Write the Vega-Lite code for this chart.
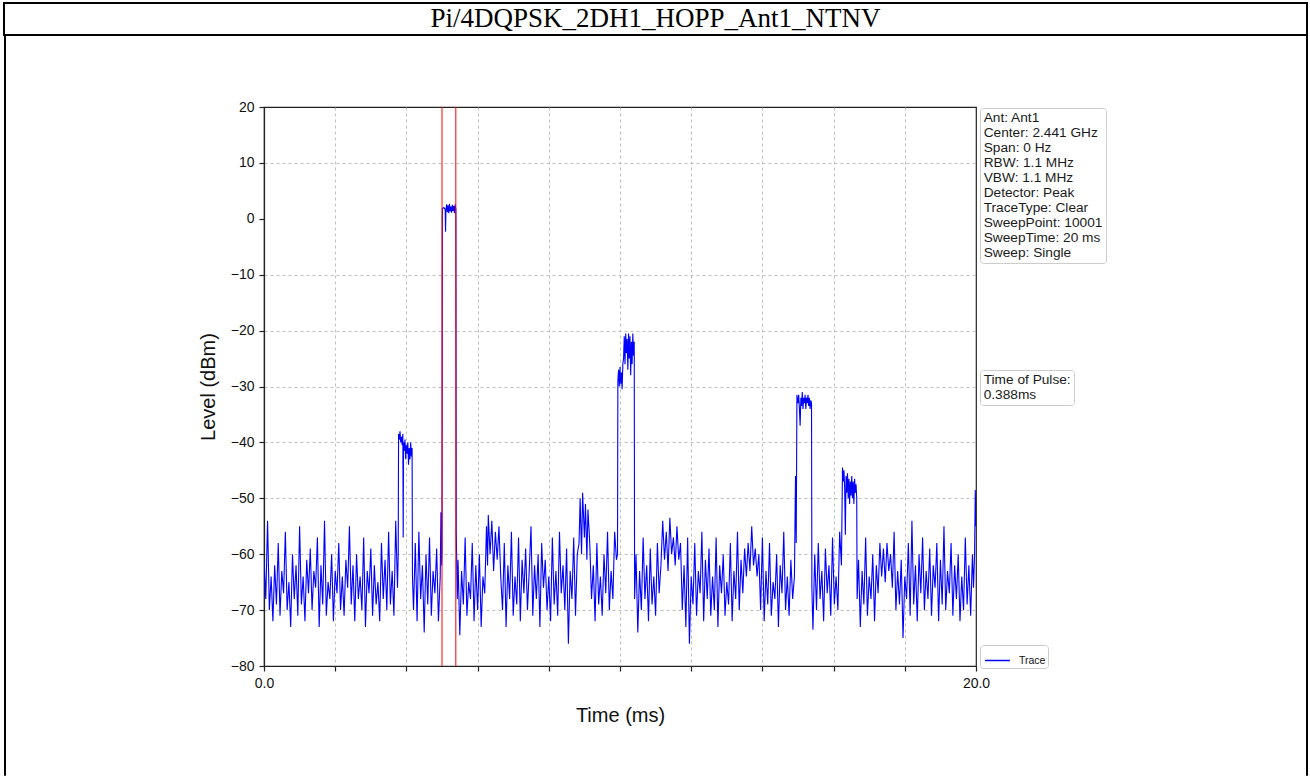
{
  "$schema": "https://vega.github.io/schema/vega-lite/v6.json",
  "padding": {"left": 1, "top": 2, "right": 1, "bottom": 0},
  "background": "white",
  "config": {
    "font": "Liberation Sans",
    "view": {"stroke": "#222222", "strokeWidth": 1.2},
    "axis": {
      "domainColor": "#222222", "domainWidth": 1.2,
      "tickColor": "#222222", "tickWidth": 1.2, "tickSize": 5,
      "labelFont": "Liberation Sans", "labelFontSize": 14, "labelColor": "#111111",
      "titleFont": "Liberation Sans", "titleFontSize": 20, "titleFontWeight": "normal", "titleColor": "#111111",
      "grid": true, "gridDash": [3, 3], "gridWidth": 0.8,
      "gridColor": {"condition": {"test": "datum.value === 20 || datum.value === 0 || datum.value === -80", "value": "transparent"}, "value": "#b0b0b0"}
    }
  },
  "datasets": {
    "heading": [{"title": "Pi/4DQPSK_2DH1_HOPP_Ant1_NTNV"}],
    "blank": [{"id": 1}],
    "markers": [{"t": 5.0}, {"t": 5.388}],
    "info": [
      {"line": "Ant: Ant1"}, {"line": "Center: 2.441 GHz"}, {"line": "Span: 0 Hz"}, {"line": "RBW: 1.1 MHz"},
      {"line": "VBW: 1.1 MHz"}, {"line": "Detector: Peak"}, {"line": "TraceType: Clear"},
      {"line": "SweepPoint: 10001"}, {"line": "SweepTime: 20 ms"}, {"line": "Sweep: Single"}
    ],
    "pulse": [{"label": "Time of Pulse:"}, {"label": "\u00a00.388ms"}],
    "trace": [
      {"t":0.00,"level":-61},{"t":0.05,"level":-68},{"t":0.10,"level":-54},{"t":0.15,"level":-70},{"t":0.20,"level":-64},
      {"t":0.25,"level":-72},{"t":0.30,"level":-62},{"t":0.35,"level":-69},{"t":0.40,"level":-58},{"t":0.45,"level":-71},
      {"t":0.50,"level":-63},{"t":0.55,"level":-67},{"t":0.60,"level":-56},{"t":0.65,"level":-70},{"t":0.70,"level":-65},
      {"t":0.75,"level":-73},{"t":0.80,"level":-60},{"t":0.85,"level":-68},{"t":0.90,"level":-62},{"t":0.95,"level":-71},
      {"t":1.00,"level":-55},{"t":1.05,"level":-69},{"t":1.10,"level":-64},{"t":1.15,"level":-72},{"t":1.20,"level":-61},
      {"t":1.25,"level":-67},{"t":1.30,"level":-59},{"t":1.35,"level":-70},{"t":1.40,"level":-63},{"t":1.45,"level":-66},
      {"t":1.50,"level":-57},{"t":1.55,"level":-73},{"t":1.60,"level":-62},{"t":1.65,"level":-69},{"t":1.70,"level":-54},
      {"t":1.75,"level":-71},{"t":1.80,"level":-65},{"t":1.85,"level":-68},{"t":1.90,"level":-60},{"t":1.95,"level":-72},
      {"t":2.00,"level":-63},{"t":2.05,"level":-67},{"t":2.10,"level":-58},{"t":2.15,"level":-70},{"t":2.20,"level":-64},
      {"t":2.25,"level":-71},{"t":2.30,"level":-61},{"t":2.35,"level":-66},{"t":2.40,"level":-55},{"t":2.45,"level":-69},
      {"t":2.50,"level":-62},{"t":2.55,"level":-72},{"t":2.60,"level":-60},{"t":2.65,"level":-68},{"t":2.70,"level":-64},
      {"t":2.75,"level":-70},{"t":2.80,"level":-57},{"t":2.85,"level":-73},{"t":2.90,"level":-63},{"t":2.95,"level":-67},
      {"t":3.00,"level":-59},{"t":3.05,"level":-71},{"t":3.10,"level":-62},{"t":3.15,"level":-69},{"t":3.20,"level":-65},
      {"t":3.25,"level":-72},{"t":3.30,"level":-58},{"t":3.35,"level":-68},{"t":3.40,"level":-61},{"t":3.45,"level":-70},
      {"t":3.50,"level":-56},{"t":3.55,"level":-69},{"t":3.60,"level":-63},{"t":3.65,"level":-71},{"t":3.70,"level":-54},
      {"t":3.75,"level":-66},{"t":3.77,"level":-60},
      {"t":3.78,"level":-38.5},{"t":3.80,"level":-39.5},{"t":3.82,"level":-38},{"t":3.84,"level":-40},{"t":3.86,"level":-39},
      {"t":3.88,"level":-40.5},{"t":3.90,"level":-38.5},{"t":3.91,"level":-57},{"t":3.92,"level":-40},{"t":3.94,"level":-41.5},
      {"t":3.96,"level":-39.5},{"t":3.98,"level":-43},{"t":4.00,"level":-40.5},{"t":4.02,"level":-42},{"t":4.04,"level":-40},
      {"t":4.06,"level":-44},{"t":4.08,"level":-41},{"t":4.10,"level":-43},{"t":4.12,"level":-40},{"t":4.14,"level":-42.5},
      {"t":4.16,"level":-41},{"t":4.17,"level":-64},
      {"t":4.20,"level":-70},{"t":4.25,"level":-58},{"t":4.30,"level":-72},{"t":4.35,"level":-56},{"t":4.40,"level":-68},
      {"t":4.45,"level":-62},{"t":4.50,"level":-74},{"t":4.55,"level":-60},{"t":4.60,"level":-69},{"t":4.65,"level":-57},
      {"t":4.70,"level":-71},{"t":4.75,"level":-63},{"t":4.80,"level":-67},{"t":4.85,"level":-59},{"t":4.90,"level":-72},
      {"t":4.95,"level":-64},{"t":4.97,"level":-52.5},{"t":4.99,"level":-62},{"t":5.00,"level":-60},
      {"t":5.01,"level":1.8},{"t":5.05,"level":2},{"t":5.09,"level":1.7},{"t":5.10,"level":-2.3},{"t":5.11,"level":1.5},
      {"t":5.13,"level":2.6},{"t":5.15,"level":1.2},{"t":5.17,"level":2.4},{"t":5.19,"level":1.0},{"t":5.21,"level":2.7},
      {"t":5.23,"level":1.3},{"t":5.25,"level":2.2},{"t":5.27,"level":1.1},{"t":5.29,"level":2.5},{"t":5.31,"level":1.4},
      {"t":5.33,"level":2.3},{"t":5.35,"level":1.0},{"t":5.37,"level":2.6},{"t":5.39,"level":1.6},
      {"t":5.40,"level":-56},{"t":5.43,"level":-68},
      {"t":5.45,"level":-61},{"t":5.50,"level":-74.5},{"t":5.55,"level":-63},{"t":5.60,"level":-69},{"t":5.65,"level":-57},
      {"t":5.70,"level":-71},{"t":5.75,"level":-65},{"t":5.80,"level":-68},{"t":5.85,"level":-58},{"t":5.90,"level":-72},
      {"t":5.95,"level":-62},{"t":6.00,"level":-70},{"t":6.05,"level":-60},{"t":6.10,"level":-73},{"t":6.15,"level":-64},
      {"t":6.20,"level":-67},
      {"t":6.25,"level":-55},{"t":6.28,"level":-62},{"t":6.30,"level":-53},{"t":6.35,"level":-60},{"t":6.40,"level":-54},
      {"t":6.45,"level":-63},{"t":6.50,"level":-56},{"t":6.55,"level":-61},{"t":6.60,"level":-55},{"t":6.65,"level":-64},
      {"t":6.70,"level":-70},{"t":6.75,"level":-58},{"t":6.80,"level":-73},{"t":6.85,"level":-62},{"t":6.90,"level":-68},
      {"t":6.95,"level":-56},{"t":7.00,"level":-71},{"t":7.05,"level":-64},{"t":7.10,"level":-69},{"t":7.15,"level":-57},
      {"t":7.20,"level":-72},{"t":7.25,"level":-61},{"t":7.30,"level":-67},{"t":7.35,"level":-59},{"t":7.40,"level":-70},
      {"t":7.45,"level":-63},{"t":7.50,"level":-55},{"t":7.55,"level":-71},{"t":7.60,"level":-62},{"t":7.65,"level":-68},
      {"t":7.70,"level":-60},{"t":7.75,"level":-73},{"t":7.80,"level":-58},{"t":7.85,"level":-66},{"t":7.90,"level":-61},
      {"t":7.95,"level":-70},{"t":8.00,"level":-64},{"t":8.05,"level":-72},{"t":8.10,"level":-57},{"t":8.15,"level":-69},
      {"t":8.20,"level":-63},{"t":8.25,"level":-71},{"t":8.30,"level":-56},{"t":8.35,"level":-67},{"t":8.40,"level":-62},
      {"t":8.45,"level":-70},{"t":8.50,"level":-59},{"t":8.55,"level":-76},{"t":8.60,"level":-63},{"t":8.65,"level":-68},
      {"t":8.70,"level":-57},{"t":8.75,"level":-71},{"t":8.80,"level":-60},
      {"t":8.85,"level":-58},{"t":8.88,"level":-50},{"t":8.92,"level":-60},{"t":8.95,"level":-49},{"t":9.00,"level":-57},
      {"t":9.03,"level":-51},{"t":9.07,"level":-61},{"t":9.10,"level":-52},{"t":9.15,"level":-58},
      {"t":9.20,"level":-68},{"t":9.25,"level":-62},{"t":9.30,"level":-72},{"t":9.35,"level":-58},{"t":9.40,"level":-69},
      {"t":9.45,"level":-64},{"t":9.50,"level":-71},{"t":9.55,"level":-60},{"t":9.60,"level":-67},{"t":9.65,"level":-56},
      {"t":9.70,"level":-70},{"t":9.75,"level":-63},{"t":9.80,"level":-68},{"t":9.85,"level":-56},{"t":9.90,"level":-61},
      {"t":9.93,"level":-60},
      {"t":9.94,"level":-29},{"t":9.96,"level":-27},{"t":9.98,"level":-30},{"t":10.00,"level":-26.5},{"t":10.02,"level":-29.5},
      {"t":10.04,"level":-27.5},{"t":10.06,"level":-30.5},{"t":10.08,"level":-26},{"t":10.10,"level":-25},{"t":10.12,"level":-21},
      {"t":10.14,"level":-26},{"t":10.16,"level":-20.5},{"t":10.18,"level":-24},{"t":10.20,"level":-21.5},{"t":10.22,"level":-27},
      {"t":10.24,"level":-20.5},{"t":10.26,"level":-25},{"t":10.28,"level":-21},{"t":10.30,"level":-28},{"t":10.32,"level":-22},
      {"t":10.34,"level":-26},{"t":10.36,"level":-20.5},{"t":10.38,"level":-24.5},{"t":10.40,"level":-22},{"t":10.41,"level":-68},
      {"t":10.45,"level":-60},{"t":10.50,"level":-74},{"t":10.55,"level":-63},{"t":10.60,"level":-70},{"t":10.65,"level":-57},
      {"t":10.70,"level":-68},{"t":10.75,"level":-62},{"t":10.80,"level":-72},{"t":10.85,"level":-59},{"t":10.90,"level":-69},
      {"t":10.95,"level":-64},{"t":11.00,"level":-71},{"t":11.05,"level":-58},{"t":11.10,"level":-67},{"t":11.15,"level":-62},
      {"t":11.20,"level":-54},{"t":11.25,"level":-61},{"t":11.30,"level":-56},{"t":11.35,"level":-63},{"t":11.40,"level":-53.5},
      {"t":11.45,"level":-60},{"t":11.50,"level":-57},{"t":11.55,"level":-62},{"t":11.60,"level":-55},{"t":11.65,"level":-61},
      {"t":11.70,"level":-58},
      {"t":11.75,"level":-70},{"t":11.80,"level":-62},{"t":11.85,"level":-73},{"t":11.90,"level":-57},{"t":11.95,"level":-76},
      {"t":12.00,"level":-64},{"t":12.05,"level":-69},{"t":12.10,"level":-58},{"t":12.15,"level":-71},{"t":12.20,"level":-63},
      {"t":12.25,"level":-67},{"t":12.30,"level":-56},{"t":12.35,"level":-72},{"t":12.40,"level":-61},{"t":12.45,"level":-68},
      {"t":12.50,"level":-59},{"t":12.55,"level":-71},{"t":12.60,"level":-64},{"t":12.65,"level":-70},{"t":12.70,"level":-57},
      {"t":12.75,"level":-73},{"t":12.80,"level":-62},{"t":12.85,"level":-67},{"t":12.90,"level":-60},{"t":12.95,"level":-71},
      {"t":13.00,"level":-65},{"t":13.05,"level":-69},{"t":13.10,"level":-58},{"t":13.15,"level":-72},{"t":13.20,"level":-63},
      {"t":13.25,"level":-68},{"t":13.30,"level":-56},{"t":13.35,"level":-70},{"t":13.40,"level":-61},{"t":13.45,"level":-67},
      {"t":13.50,"level":-59},{"t":13.55,"level":-64},{"t":13.60,"level":-58},{"t":13.65,"level":-63},{"t":13.70,"level":-55},
      {"t":13.75,"level":-62},{"t":13.80,"level":-59},{"t":13.85,"level":-64},{"t":13.90,"level":-60},{"t":13.95,"level":-70},
      {"t":14.00,"level":-57},{"t":14.05,"level":-72},{"t":14.10,"level":-63},{"t":14.15,"level":-69},{"t":14.20,"level":-58},
      {"t":14.25,"level":-71},{"t":14.30,"level":-65},{"t":14.35,"level":-68},{"t":14.40,"level":-60},{"t":14.45,"level":-73},
      {"t":14.50,"level":-62},{"t":14.55,"level":-67},{"t":14.60,"level":-56},{"t":14.65,"level":-70},{"t":14.70,"level":-64},
      {"t":14.75,"level":-71},{"t":14.80,"level":-61},{"t":14.85,"level":-68},{"t":14.90,"level":-64},{"t":14.93,"level":-46},
      {"t":14.95,"level":-58},
      {"t":14.97,"level":-31.5},{"t":15.00,"level":-33},{"t":15.02,"level":-31.5},{"t":15.04,"level":-34},{"t":15.06,"level":-37},
      {"t":15.08,"level":-32},{"t":15.10,"level":-33.5},{"t":15.12,"level":-31},{"t":15.14,"level":-34},{"t":15.16,"level":-32},
      {"t":15.18,"level":-33},{"t":15.20,"level":-31.5},{"t":15.22,"level":-34},{"t":15.24,"level":-32},{"t":15.26,"level":-33},
      {"t":15.28,"level":-31.5},{"t":15.30,"level":-33.5},{"t":15.32,"level":-32},{"t":15.34,"level":-34},{"t":15.36,"level":-32.5},
      {"t":15.38,"level":-33},{"t":15.39,"level":-66},
      {"t":15.42,"level":-73.5},{"t":15.47,"level":-60},{"t":15.52,"level":-70},{"t":15.57,"level":-58},{"t":15.62,"level":-68},
      {"t":15.67,"level":-63},{"t":15.72,"level":-72},{"t":15.77,"level":-59},{"t":15.82,"level":-67},{"t":15.87,"level":-62},
      {"t":15.92,"level":-71},{"t":15.97,"level":-57},{"t":16.02,"level":-69},{"t":16.07,"level":-64},{"t":16.12,"level":-70},
      {"t":16.17,"level":-56},{"t":16.22,"level":-62},
      {"t":16.25,"level":-44.5},{"t":16.27,"level":-47},{"t":16.29,"level":-45},{"t":16.31,"level":-48},{"t":16.33,"level":-56.5},
      {"t":16.35,"level":-46},{"t":16.37,"level":-49},{"t":16.39,"level":-45.5},{"t":16.41,"level":-50},{"t":16.43,"level":-46.5},
      {"t":16.45,"level":-51},{"t":16.47,"level":-47},{"t":16.49,"level":-49.5},{"t":16.51,"level":-46},{"t":16.53,"level":-50},
      {"t":16.55,"level":-47},{"t":16.57,"level":-51},{"t":16.59,"level":-46.5},{"t":16.61,"level":-49},{"t":16.63,"level":-47.5},
      {"t":16.65,"level":-50},{"t":16.66,"level":-68},
      {"t":16.70,"level":-61},{"t":16.75,"level":-73},{"t":16.80,"level":-63},{"t":16.85,"level":-69},{"t":16.90,"level":-57},
      {"t":16.95,"level":-71},{"t":17.00,"level":-64},{"t":17.05,"level":-68},{"t":17.10,"level":-60},{"t":17.15,"level":-72},
      {"t":17.20,"level":-62},{"t":17.25,"level":-67},{"t":17.30,"level":-58},{"t":17.35,"level":-64},{"t":17.40,"level":-59},
      {"t":17.45,"level":-65},{"t":17.50,"level":-58},{"t":17.55,"level":-63},{"t":17.60,"level":-60},{"t":17.65,"level":-66},
      {"t":17.70,"level":-56},{"t":17.75,"level":-70},{"t":17.80,"level":-63},{"t":17.85,"level":-69},{"t":17.90,"level":-61},
      {"t":17.95,"level":-75},{"t":18.00,"level":-64},{"t":18.05,"level":-68},{"t":18.10,"level":-58},{"t":18.15,"level":-71},
      {"t":18.20,"level":-54},{"t":18.25,"level":-69},{"t":18.30,"level":-62},{"t":18.35,"level":-72},{"t":18.40,"level":-60},
      {"t":18.45,"level":-67},{"t":18.50,"level":-57},{"t":18.55,"level":-70},{"t":18.60,"level":-63},{"t":18.65,"level":-68},
      {"t":18.70,"level":-59},{"t":18.75,"level":-71},{"t":18.80,"level":-62},{"t":18.85,"level":-66},{"t":18.90,"level":-58},
      {"t":18.95,"level":-72},{"t":19.00,"level":-61},{"t":19.05,"level":-69},{"t":19.10,"level":-55},{"t":19.15,"level":-70},
      {"t":19.20,"level":-63},{"t":19.25,"level":-67},{"t":19.30,"level":-58},{"t":19.35,"level":-71},{"t":19.40,"level":-62},
      {"t":19.45,"level":-68},{"t":19.50,"level":-60},{"t":19.55,"level":-72},{"t":19.60,"level":-64},{"t":19.65,"level":-70},
      {"t":19.70,"level":-57},{"t":19.75,"level":-69},{"t":19.80,"level":-62},{"t":19.85,"level":-71},{"t":19.90,"level":-60},
      {"t":19.93,"level":-66},{"t":19.96,"level":-60},{"t":19.98,"level":-48.5},{"t":20.00,"level":-55}
    ]
  },
  "bounds": "flush",
  "spacing": 32,
  "vconcat": [
    {
      "bounds": "flush",
      "hconcat": [
        {
          "width": 1303,
          "height": 32,
          "view": {"stroke": "black", "strokeWidth": 2},
          "data": {"name": "heading"},
          "mark": {"type": "text", "font": "Liberation Serif", "fontSize": 27, "color": "black"},
          "encoding": {"text": {"field": "title", "type": "nominal"}}
        }
      ]
    },
    {
      "bounds": "flush",
      "spacing": 259,
      "hconcat": [
        {
          "width": 1,
          "height": 740,
          "view": {"stroke": "black", "strokeWidth": 1},
          "data": {"name": "blank"},
          "mark": {"type": "point", "opacity": 0},
          "encoding": {}
        },
        {
          "bounds": "flush",
          "spacing": 1042,
          "hconcat": [
            {
              "bounds": "flush",
              "spacing": 71,
              "vconcat": [
                {
                  "width": 1,
                  "height": 1,
                  "view": {"stroke": null},
                  "data": {"name": "blank"},
                  "mark": {"type": "point", "opacity": 0},
                  "encoding": {}
                },
                {
                  "width": 712,
                  "height": 559,
                  "layer": [
                    {
                      "data": {"name": "trace"},
                      "mark": {"type": "line", "strokeWidth": 1.1, "clip": true},
                      "encoding": {
                        "x": {
                          "field": "t", "type": "quantitative",
                          "scale": {"domain": [0, 20], "nice": false, "zero": false},
                          "axis": {
                            "title": "Time (ms)",
                            "values": [0, 2, 4, 6, 8, 10, 12, 14, 16, 18, 20],
                            "labelExpr": "datum.value === 0 || datum.value === 20 ? format(datum.value, '.1f') : ''",
                            "labelFlush": false,
                            "labelOverlap": false,
                            "labelPadding": 5,
                            "titlePadding": 15
                          }
                        },
                        "y": {
                          "field": "level", "type": "quantitative",
                          "scale": {"domain": [-80, 20], "nice": false, "zero": false},
                          "axis": {
                            "title": "Level (dBm)",
                            "values": [-80, -70, -60, -50, -40, -30, -20, -10, 0, 10, 20],
                            "labelPadding": 5,
                            "titlePadding": 12
                          }
                        },
                        "color": {
                          "datum": "Trace", "type": "nominal",
                          "scale": {"range": ["#0000ff"]},
                          "legend": {
                            "title": null, "orient": "none", "legendX": 976, "legendY": 610,
                            "direction": "vertical", "symbolType": "stroke", "symbolSize": 625,
                            "symbolStrokeWidth": 1.5, "symbolOffset": 2, "labelOffset": 8,
                            "labelFontSize": 10.5, "labelFont": "Liberation Sans", "labelColor": "#111111",
                            "padding": 2, "strokeColor": "#cccccc", "cornerRadius": 3, "fillColor": "white"
                          }
                        }
                      }
                    },
                    {
                      "data": {"name": "markers"},
                      "mark": {"type": "rule", "color": "#ff0000", "strokeWidth": 1},
                      "encoding": {"x": {"field": "t", "type": "quantitative"}}
                    },
                    {
                      "data": {"name": "info"},
                      "mark": {"type": "point", "opacity": 0},
                      "encoding": {
                        "shape": {
                          "field": "line", "type": "nominal", "sort": null,
                          "legend": {
                            "title": null, "orient": "none", "legendX": 976, "legendY": 73,
                            "direction": "vertical", "symbolSize": 0.01, "symbolOpacity": 0, "symbolStrokeWidth": 0.01,
                            "labelOffset": -13, "labelFontSize": 13.7, "labelFont": "Liberation Sans", "labelColor": "#1a1a1a",
                            "labelLimit": 300, "rowPadding": 0, "padding": 3, "strokeColor": "#cccccc",
                            "cornerRadius": 3, "fillColor": "white"
                          }
                        }
                      }
                    },
                    {
                      "data": {"name": "pulse"},
                      "mark": {"type": "point", "opacity": 0},
                      "encoding": {
                        "fill": {
                          "field": "label", "type": "nominal", "sort": null,
                          "legend": {
                            "title": null, "orient": "none", "legendX": 976, "legendY": 335,
                            "direction": "vertical", "symbolSize": 0.01, "symbolOpacity": 0, "symbolStrokeWidth": 0.01,
                            "labelOffset": -13, "labelFontSize": 13.7, "labelFont": "Liberation Sans", "labelColor": "#1a1a1a",
                            "labelLimit": 300, "rowPadding": 0, "padding": 3, "strokeColor": "#cccccc",
                            "cornerRadius": 3, "fillColor": "white"
                          }
                        }
                      }
                    }
                  ]
                }
              ]
            },
            {
              "width": 1,
              "height": 740,
              "view": {"stroke": "black", "strokeWidth": 1},
              "data": {"name": "blank"},
              "mark": {"type": "point", "opacity": 0},
              "encoding": {}
            }
          ]
        }
      ]
    }
  ],
  "resolve": {"legend": {"color": "independent", "shape": "independent", "fill": "independent"}}
}
